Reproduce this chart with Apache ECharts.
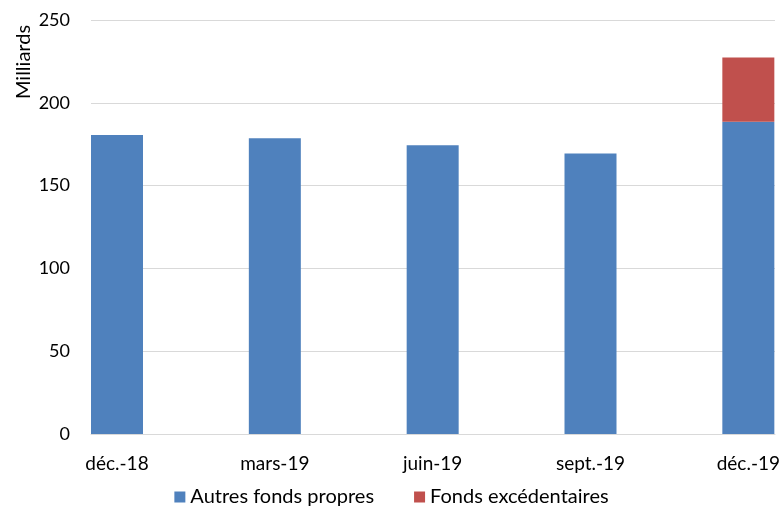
<!DOCTYPE html>
<html>
<head>
<meta charset="utf-8">
<script src="https://cdn.jsdelivr.net/npm/echarts@6/dist/echarts.min.js"></script>
<style>
  html, body { margin: 0; padding: 0; background: #fff; }
  #chart { width: 783px; height: 509px; }
</style>
</head>
<body>
<div id="chart"></div>
<script>
// values (milliards)
const categories = ['déc.-18', 'mars-19', 'juin-19', 'sept.-19', 'déc.-19'];
const autresFonds = [180.5, 178.6, 174.4, 169.4, 188.5];
const fondsExcedentaires = [null, null, null, null, 38.9];
const yMin = 0, yMax = 250, yStep = 50;

const font = 'Lato';

const chart = echarts.init(document.getElementById('chart'));
chart.setOption({
  animation: false,
  textStyle: { fontFamily: font },
  // grid 0: categories placed on the first/last bar centres, grid 1: the visible frame
  grid: [
    { left: 117, right: 34, top: 20, bottom: 75 },
    { left: 91, right: 8, top: 20, bottom: 75 }
  ],
  legend: {
    top: 482,
    left: 'center',
    itemWidth: 11,
    itemHeight: 11,
    itemGap: 40,
    icon: 'rect',
    textStyle: { fontSize: 20, color: '#000', fontFamily: font },
    data: ['Autres fonds propres', 'Fonds excédentaires']
  },
  xAxis: [
    {
      type: 'category',
      gridIndex: 0,
      boundaryGap: false,
      data: categories,
      axisLine: { show: false },
      axisTick: { show: false },
      axisLabel: { color: '#000', fontSize: 19, margin: 20 }
    },
    {
      type: 'value',
      gridIndex: 1,
      min: 0,
      max: 1,
      axisLine: { show: true, lineStyle: { color: '#d9d9d9' } },
      axisTick: { show: false },
      axisLabel: { show: false },
      splitLine: { show: false }
    }
  ],
  yAxis: [
    {
      type: 'value',
      gridIndex: 0,
      min: yMin,
      max: yMax,
      interval: yStep,
      show: false,
      splitLine: { show: false }
    },
    {
      type: 'value',
      gridIndex: 1,
      min: yMin,
      max: yMax,
      interval: yStep,
      axisLine: { show: false },
      axisTick: { show: false },
      splitLine: { lineStyle: { color: '#d9d9d9' } },
      axisLabel: { color: '#000', fontSize: 18, margin: 21 }
    }
  ],
  graphic: [{
    type: 'text',
    x: 24,
    y: 62,
    rotation: Math.PI / 2,
    style: {
      text: 'Milliards',
      fill: '#000',
      font: '20px Lato',
      textAlign: 'center',
      textVerticalAlign: 'middle'
    }
  }],
  series: [
    {
      name: 'Autres fonds propres',
      type: 'bar',
      stack: 'total',
      barWidth: 52,
      clip: false,
      xAxisIndex: 0,
      yAxisIndex: 0,
      itemStyle: { color: '#4f81bd' },
      data: autresFonds
    },
    {
      name: 'Fonds excédentaires',
      type: 'bar',
      stack: 'total',
      barWidth: 52,
      clip: false,
      xAxisIndex: 0,
      yAxisIndex: 0,
      itemStyle: { color: '#c0504d' },
      data: fondsExcedentaires
    }
  ]
});
</script>
</body>
</html>
